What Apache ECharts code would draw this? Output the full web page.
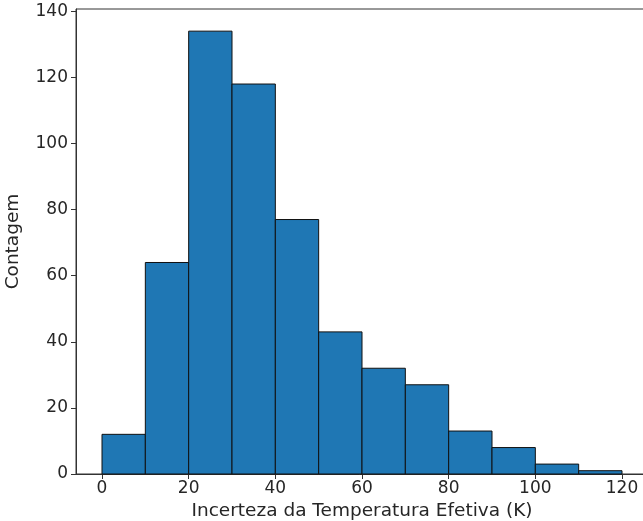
<!DOCTYPE html>
<html>
<head>
<meta charset="utf-8">
<script src="https://cdn.jsdelivr.net/npm/echarts@6/dist/echarts.min.js"></script>
<style>html,body{margin:0;padding:0;background:#fff;}#c{width:643px;height:521px;}</style>
</head>
<body>
<div id="c"></div>
<script>
const binStarts = [0, 10, 20, 30, 40, 50, 60, 70, 80, 90, 100, 110];
const binWidth = 10;
const counts = [12, 64, 134, 118, 77, 43, 32, 27, 13, 8, 3, 1];
const xTicks = [0, 20, 40, 60, 80, 100, 120];
const yTicks = [0, 20, 40, 60, 80, 100, 120, 140];
const xLabel = 'Incerteza da Temperatura Efetiva (K)';
const yLabel = 'Contagem';

const data = binStarts.map((s, i) => [s, s + binWidth, counts[i]]);
const chart = echarts.init(document.getElementById('c'), null, {renderer: 'canvas'});
const font = 'DejaVu Sans';
chart.setOption({
  animation: false,
  grid: {left: 76, top: 9, right: -5, bottom: 47, containLabel: false, outerBoundsMode: 'none',
         show: true, borderColor: '#333', borderWidth: 1, backgroundColor: 'transparent'},
  xAxis: {
    type: 'value', min: -6, max: 126,
    name: xLabel, nameLocation: 'middle', nameGap: 25,
    nameTextStyle: {fontFamily: font, fontSize: 18.5, color: '#262626'},
    axisLine: {show: true, onZero: false, lineStyle: {color: '#333', width: 1}},
    axisTick: {show: true, inside: false, length: 5, lineStyle: {color: '#333'}, customValues: xTicks},
    axisLabel: {fontFamily: font, fontSize: 17, color: '#262626', margin: 6, customValues: xTicks},
    splitLine: {show: false}
  },
  yAxis: {
    type: 'value', min: 0, max: 140.7,
    name: yLabel, nameLocation: 'middle', nameGap: 53, nameRotate: 90,
    nameTextStyle: {fontFamily: font, fontSize: 18.5, color: '#262626'},
    axisLine: {show: true, onZero: false, lineStyle: {color: '#333', width: 1}},
    axisTick: {show: true, inside: false, length: 5, lineStyle: {color: '#333'}, customValues: yTicks},
    axisLabel: {fontFamily: font, fontSize: 17, color: '#262626', margin: 8, customValues: yTicks},
    splitLine: {show: false}
  },
  series: [{
    type: 'custom',
    data: data,
    encode: {x: [0, 1], y: 2},
    renderItem: function (params, api) {
      const p0 = api.coord([api.value(0), 0]);
      const p1 = api.coord([api.value(1), api.value(2)]);
      return {
        type: 'rect',
        shape: {x: p0[0], y: p1[1], width: p1[0] - p0[0], height: p0[1] - p1[1]},
        style: {fill: '#1f77b4', stroke: '#111', lineWidth: 1}
      };
    }
  }]
});
</script>
</body>
</html>
